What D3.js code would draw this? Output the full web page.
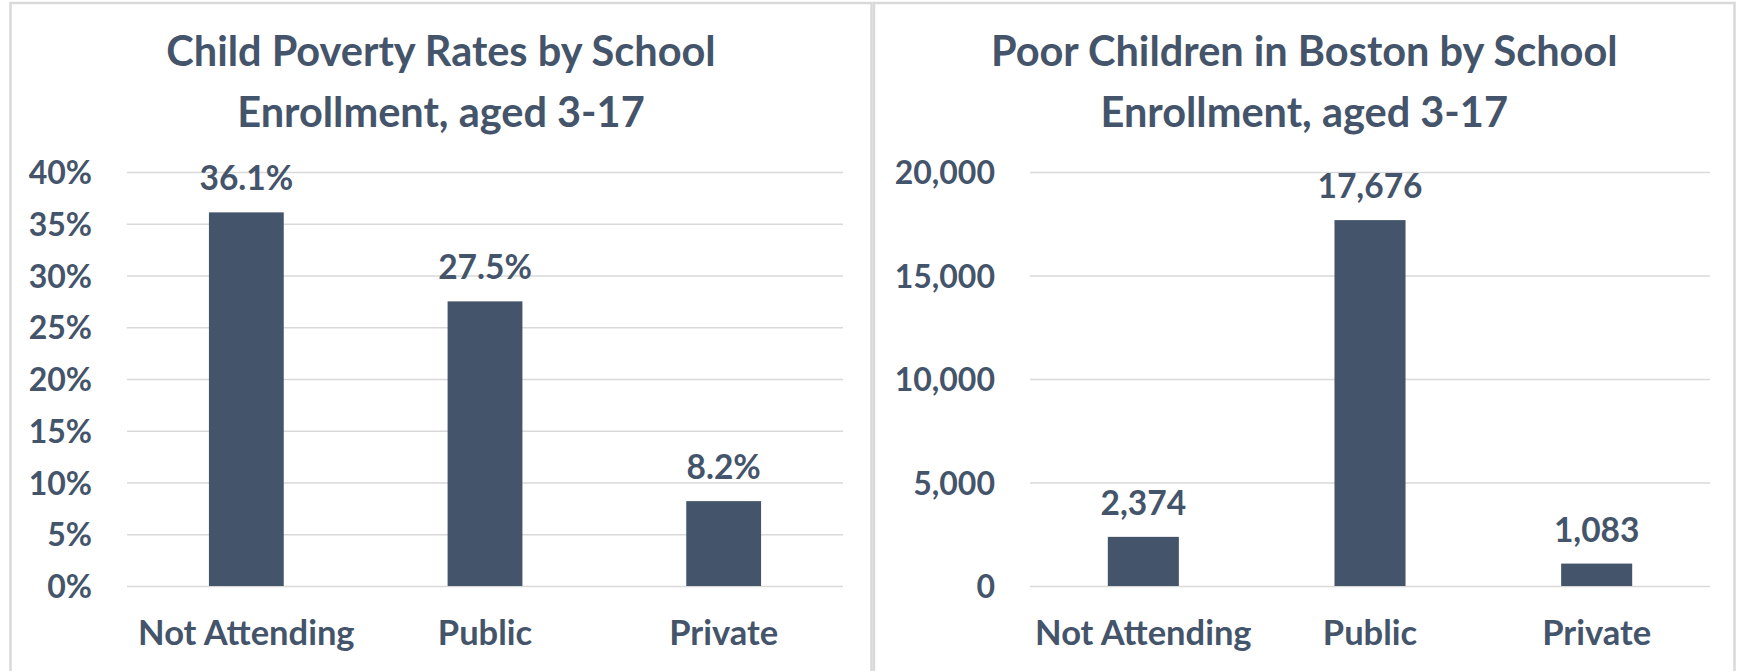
<!DOCTYPE html>
<meta charset="utf-8">
<style>
body { margin: 0; background: #fff; }
#chart svg text {
  font-family: Lato, "Open Sans", sans-serif;
  font-weight: bold;
  fill: #44546a;
}
</style>
<body>
<div id="chart"></div>
<script src="https://d3js.org/d3.v7.min.js"></script>
<script>

// data
var categories = ["Not Attending", "Public", "Private"];
var povertyRates = [36.1, 27.5, 8.2];
var poorChildren = [2374, 17676, 1083];
var rateTicks = [0, 5, 10, 15, 20, 25, 30, 35, 40];
var countTicks = [0, 5000, 10000, 15000, 20000];
var leftTitle = ["Child Poverty Rates by School", "Enrollment, aged 3-17"];
var rightTitle = ["Poor Children in Boston by School", "Enrollment, aged 3-17"];

var W = 1741, H = 671;
var barColor = "#44546a", gridColor = "#d9d9d9";

var svg = d3.select("#chart")
  .append("svg")
  .attr("width", W)
  .attr("height", H);

svg.append("rect").attr("width", W).attr("height", H).attr("fill", "#fff");

// one panel = frame + title + bars
function drawPanel(p) {
  svg.append("rect")
    .attr("x", p.x0).attr("y", 3)
    .attr("width", p.x1 - p.x0).attr("height", H + 10)
    .attr("fill", "none")
    .attr("stroke", gridColor)
    .attr("stroke-width", 2.5);

  var cx = (p.x0 + p.x1) / 2;
  p.title.forEach(function(line, i) {
    svg.append("text")
      .attr("x", cx)
      .attr("y", 66 + i * 61)
      .attr("text-anchor", "middle")
      .style("font-size", "41.5px")
      .text(line);
  });

  var top = 172, bottom = 586;
  var gap = 1 - 1 / 3.19;   // excel gap width ~219%

  var x = d3.scaleBand()
    .domain(categories)
    .range([p.left, p.right])
    .paddingInner(gap)
    .paddingOuter(gap / 2);

  var y = d3.scaleLinear()
    .domain([0, d3.max(p.ticks)])
    .range([bottom, top]);

  var g = svg.append("g");

  // y axis with gridlines
  var yAxis = g.append("g")
    .attr("transform", "translate(" + p.left + ",0)")
    .call(d3.axisLeft(y)
      .tickValues(p.ticks)
      .tickSize(-(p.right - p.left))
      .tickPadding(35)
      .tickFormat(p.tickFormat));
  yAxis.select(".domain").remove();
  yAxis.selectAll("line").attr("stroke", gridColor).attr("stroke-width", 1.3);
  yAxis.selectAll("text").style("font-size", "32px").attr("dy", "0.36em");

  // x axis labels
  var xAxis = g.append("g")
    .attr("transform", "translate(0," + bottom + ")")
    .call(d3.axisBottom(x).tickSize(0).tickPadding(35));
  xAxis.select(".domain").remove();
  xAxis.selectAll("text").style("font-size", "34.5px");

  // bars
  g.selectAll(".bar")
    .data(p.values)
    .enter()
    .append("rect")
    .attr("class", "bar")
    .attr("x", function(d, i) { return x(categories[i]); })
    .attr("y", function(d) { return y(d); })
    .attr("width", x.bandwidth())
    .attr("height", function(d) { return bottom - y(d); })
    .attr("fill", barColor);

  // value labels
  g.selectAll(".lbl")
    .data(p.values)
    .enter()
    .append("text")
    .attr("class", "lbl")
    .attr("x", function(d, i) { return x(categories[i]) + x.bandwidth() / 2; })
    .attr("y", function(d) { return y(d) - 22; })
    .attr("text-anchor", "middle")
    .style("font-size", "33.5px")
    .text(p.labelFormat);
}

drawPanel({
  x0: 10.5, x1: 871.5,
  left: 127, right: 843,
  title: leftTitle,
  values: povertyRates,
  ticks: rateTicks,
  tickFormat: function(d) { return d + "%"; },
  labelFormat: function(d) { return d.toFixed(1) + "%"; }
});

drawPanel({
  x0: 874, x1: 1734.5,
  left: 1030, right: 1710,
  title: rightTitle,
  values: poorChildren,
  ticks: countTicks,
  tickFormat: d3.format(","),
  labelFormat: d3.format(",")
});

</script>
